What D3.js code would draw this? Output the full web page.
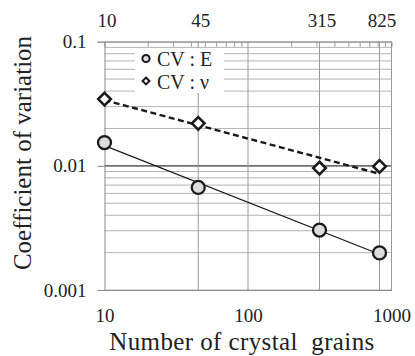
<!DOCTYPE html>
<html>
<head>
<meta charset="utf-8">
<script src="https://cdn.jsdelivr.net/npm/d3@7"></script>
<style>
  body { margin: 0; background: #fff; }
</style>
</head>
<body>
<svg id="chart" width="415" height="356"></svg>
<script>
// data
const grains = [10, 45, 315, 825];
const cvE = [0.0154, 0.0067, 0.00304, 0.00199];
const cvNu = [0.0345, 0.0220, 0.0096, 0.0099];
const seriesNames = ["CV : E", "CV : ν"];
const topTicks = [10, 45, 315, 825];
const bottomTicks = [10, 100, 1000];
const leftTicks = [0.1, 0.01, 0.001];

const serif = "'Liberation Serif', 'Times New Roman', serif";
const ink = "#222";
const svg = d3.select("#chart");

// scales
const x = d3.scaleLog().domain([10, 1000]).range([104.5, 391.5]);
const y = d3.scaleLog().domain([0.001, 0.1]).range([290, 41.7]);

// horizontal grid (log minor lines)
const grid = svg.append("g");
grid.selectAll("line.h")
  .data(y.ticks())
  .join("line")
  .attr("x1", x(10)).attr("x2", x(1000))
  .attr("y1", d => y(d)).attr("y2", d => y(d))
  .attr("stroke", d => Math.abs(d - 0.01) < 1e-9 ? "#707070" : "#b4b4b4")
  .attr("stroke-width", d => Math.abs(d - 0.01) < 1e-9 ? 1.6 : 1);

// vertical grid
grid.selectAll("line.v")
  .data([45, 100, 315, 825, 1000])
  .join("line")
  .attr("x1", d => x(d)).attr("x2", d => x(d))
  .attr("y1", y(0.1)).attr("y2", y(0.001))
  .attr("stroke", "#9a9a9a")
  .attr("stroke-width", 1);

// top axis minor ticks
const minor = x.ticks().filter(d => !bottomTicks.includes(d));
svg.append("g")
  .attr("transform", `translate(0,${y(0.1)})`)
  .call(d3.axisTop(x).tickValues(minor).tickSize(-5).tickFormat(""))
  .call(g => g.selectAll("line").attr("stroke", "#9a9a9a"))
  .call(g => g.select(".domain").attr("stroke", "#8a8a8a"));

const styleTicks = g => g.selectAll("text")
  .attr("font-size", 19).attr("fill", ink)
  .style("font-family", serif).style("font-size", "19px");

// top axis labels
svg.append("g")
  .attr("transform", `translate(0,${y(0.1)})`)
  .call(d3.axisTop(x).tickValues(topTicks).tickSize(0).tickPadding(15).tickFormat(d3.format("d")))
  .call(g => g.select(".domain").remove())
  .call(styleTicks)
  .call(g => g.selectAll("text").attr("dx", 2));

// bottom axis
svg.append("g")
  .attr("transform", `translate(0,${y(0.001)})`)
  .call(d3.axisBottom(x).tickValues(bottomTicks).tickSize(0).tickPadding(19).tickFormat(d3.format("d")))
  .call(g => g.select(".domain").attr("stroke", "#8a8a8a"))
  .call(styleTicks);

// left axis
svg.append("g")
  .attr("transform", `translate(${x(10)},0)`)
  .call(d3.axisLeft(y).tickValues(leftTicks).tickSize(7).tickPadding(11).tickFormat(d => String(d)))
  .call(g => g.select(".domain").attr("stroke", "#8a8a8a"))
  .call(g => g.selectAll("line").attr("stroke", "#8a8a8a"))
  .call(styleTicks);

// power-law trend lines fitted in log space
function powerFit(xs, ys) {
  const lx = xs.map(Math.log10), ly = ys.map(Math.log10);
  const mx = d3.mean(lx), my = d3.mean(ly);
  const b = d3.sum(lx, (v, i) => (v - mx) * (ly[i] - my)) / d3.sum(lx, v => (v - mx) ** 2);
  const a = my - b * mx;
  return xv => Math.pow(10, a + b * Math.log10(xv));
}
const fitE = powerFit(grains, cvE);
const fitNu = powerFit(grains, cvNu);
const ends = [grains[0], grains[grains.length - 1]];
const line = d3.line().x(d => x(d[0])).y(d => y(d[1]));

svg.append("path")
  .attr("d", line(ends.map(g => [g, fitNu(g)])))
  .attr("fill", "none").attr("stroke", "#1a1a1a")
  .attr("stroke-width", 2.4).attr("stroke-dasharray", "6,3.5");

svg.append("path")
  .attr("d", line(ends.map(g => [g, fitE(g)])))
  .attr("fill", "none").attr("stroke", "#1a1a1a")
  .attr("stroke-width", 1.2);

// markers
const diamond = d3.symbol().type(d3.symbolDiamond2).size(100);
svg.append("g").selectAll("path")
  .data(grains.map((g, i) => [g, cvNu[i]]))
  .join("path")
  .attr("d", diamond)
  .attr("transform", d => `translate(${x(d[0])},${y(d[1])})`)
  .attr("fill", "#fff").attr("stroke", "#1a1a1a").attr("stroke-width", 2.6);

svg.append("g").selectAll("circle")
  .data(grains.map((g, i) => [g, cvE[i]]))
  .join("circle")
  .attr("cx", d => x(d[0])).attr("cy", d => y(d[1]))
  .attr("r", 6.5)
  .attr("fill", "#dcdcdc").attr("stroke", "#1a1a1a").attr("stroke-width", 2.3);

// legend
const lg = svg.append("g");
lg.append("rect").attr("x", 135).attr("y", 48).attr("width", 89).attr("height", 45).attr("fill", "#fff");
lg.append("circle").attr("cx", 146).attr("cy", 58.5).attr("r", 3.6)
  .attr("fill", "#dcdcdc").attr("stroke", "#1a1a1a").attr("stroke-width", 2);
lg.append("path").attr("d", d3.symbol().type(d3.symbolDiamond2).size(30))
  .attr("transform", "translate(146,81)")
  .attr("fill", "#fff").attr("stroke", "#1a1a1a").attr("stroke-width", 2);
lg.selectAll("text")
  .data(seriesNames)
  .join("text")
  .attr("x", 157).attr("y", (d, i) => 66 + i * 23)
  .attr("fill", ink)
  .style("font-family", serif).style("font-size", "20px")
  .text(d => d);

// axis titles
svg.append("text")
  .attr("transform", "translate(31,153) rotate(-90)")
  .attr("text-anchor", "middle")
  .attr("fill", ink)
  .style("font-family", serif).style("font-size", "25px")
  .text("Coefficient of variation");

svg.append("text")
  .attr("x", 242).attr("y", 350)
  .attr("text-anchor", "middle")
  .attr("fill", ink)
  .attr("letter-spacing", 0.4)
  .style("font-family", serif).style("font-size", "25px")
  .style("white-space", "pre")
  .text("Number of crystal  grains");
</script>
</body>
</html>
